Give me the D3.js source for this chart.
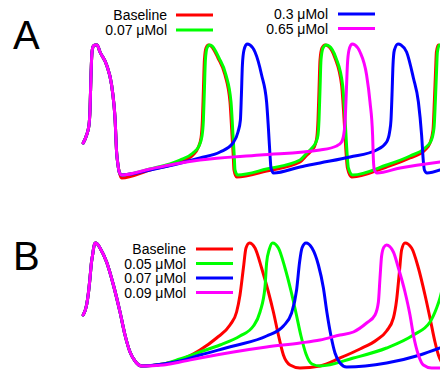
<!DOCTYPE html>
<html lang="en">
<head>
    <meta charset="UTF-8">
    <title>Action potentials</title>
    <script src="https://d3js.org/d3.v7.min.js"></script>
    <style>
        body { margin: 0; background: #fff; }
        svg { display: block; }
        text { font-family: "Liberation Sans", Arial, sans-serif; fill: #000; }
        .trace { fill: none; stroke-width: 3; stroke-linejoin: round; stroke-linecap: round; }
    </style>
</head>
<body>
    <svg width="440" height="371"></svg>
    <script>
        // time (ms), membrane potential (mV)

        // panel A : first beat is the same for every trace
        const beatA0 = [[16,-68],[33,-60],[45,-50],[50,-35],[55,0],[60,23],[67,29],[75,30],[85,30],[100,23],
            [133,10],[158,-10],[170,-30],[175,-43],[183,-77],[190,-90],[196,-97]];

        const baselineA = [...beatA0, [208,-103],[350,-95],[500,-87],[565,-80],[590,-73],[605,-63],[612,-45],
            [617,-15],[622,15],[630,27],[642,30],[655,29],[690,17],[725,0],[750,-27],[760,-60],[766,-80],
            [770,-95],[783,-102],[933,-96],[1100,-87],[1135,-80],[1160,-75],[1177,-69],[1185,-61],[1190,-45],
            [1195,-15],[1200,15],[1210,27],[1225,30],[1240,29],[1275,17],[1308,-10],[1320,-43],[1330,-77],
            [1337,-93],[1358,-102],[1533,-92],[1650,-83],[1725,-75],[1750,-68],[1765,-55],[1772,-25],
            [1778,5],[1782,23],[1792,30],[1810,28]];

        const dose007A = [...beatA0, [208,-100],[350,-94],[500,-85],[565,-78],[595,-71],[610,-61],[617,-45],
            [622,-15],[627,15],[635,27],[647,30],[660,29],[695,17],[730,0],[755,-27],[765,-60],[771,-80],
            [775,-95],[788,-100],[933,-94],[1100,-85],[1135,-78],[1160,-73],[1180,-67],[1190,-60],[1195,-45],
            [1200,-15],[1205,15],[1215,27],[1230,30],[1245,29],[1280,17],[1313,-10],[1325,-43],[1335,-77],
            [1342,-93],[1363,-100],[1533,-90],[1650,-81],[1725,-73],[1755,-66],[1770,-53],[1777,-25],
            [1783,5],[1787,23],[1797,30],[1815,28]];

        const dose03A = [...beatA0, [208,-100],[350,-95],[600,-83],[700,-77],[765,-68],[790,-57],[802,-45],
            [807,-20],[812,10],[820,25],[835,31],[850,30],[875,23],[908,0],[933,-27],[942,-53],[950,-80],
            [955,-93],[968,-98],[1100,-92],[1200,-88],[1350,-82],[1483,-75],[1533,-67],[1548,-57],[1555,-45],
            [1560,-20],[1565,10],[1572,25],[1590,31],[1605,30],[1633,23],[1667,-3],[1692,-27],[1708,-60],
            [1717,-87],[1722,-95],[1735,-98],[1800,-95]];

        const dose065A = [...beatA0, [208,-100],[350,-94],[475,-89],[600,-85],[900,-80],[1200,-75],[1283,-71],
            [1308,-67],[1322,-55],[1327,-40],[1332,-15],[1337,10],[1345,25],[1360,31],[1375,30],[1400,23],
            [1433,0],[1450,-27],[1463,-60],[1467,-85],[1472,-95],[1485,-98],[1600,-93],[1800,-87]];

        // panel B
        const beatB0 = [[16,-40],[33,-30],[42,-18],[50,-3],[57,12],[63,20],[70,29],[77,32],[87,31],[100,27],
            [133,13],[167,-10],[200,-37],[225,-60],[250,-77],[275,-86],[308,-91]];

        const baselineB = [...beatB0, [417,-89],[500,-85],[600,-75],[683,-63],[750,-50],[783,-37],[800,-20],
            [817,7],[830,27],[847,32],[875,27],[908,7],[942,-17],[967,-37],[992,-60],[1017,-80],[1050,-90],
            [1100,-93],[1200,-91],[1300,-83],[1400,-74],[1483,-65],[1533,-56],[1567,-43],[1583,-25],[1597,3],
            [1608,25],[1625,32],[1658,27],[1692,7],[1725,-20],[1750,-43],[1775,-67],[1792,-80],[1810,-88]];

        const dose005B = [...beatB0, [417,-89],[500,-84],[600,-77],[700,-70],[800,-61],[867,-51],[900,-37],
            [925,-12],[933,12],[947,26],[963,32],[992,27],[1025,7],[1055,-16],[1080,-38],[1105,-61],
            [1130,-79],[1160,-89],[1200,-91],[1367,-83],[1533,-73],[1667,-60],[1750,-47],[1783,-33],
            [1800,-23],[1815,-10]];

        const dose007B = [...beatB0, [417,-89],[500,-86],[600,-80],[767,-71],[933,-61],[1017,-51],[1058,-38],
            [1083,-15],[1098,13],[1110,27],[1130,32],[1160,27],[1192,10],[1217,-13],[1235,-38],[1255,-61],
            [1275,-78],[1300,-88],[1333,-92],[1533,-88],[1700,-80],[1800,-73]];

        const dose009B = [...beatB0, [417,-90],[500,-87],[600,-83],[767,-77],[933,-72],[1100,-68],[1200,-65],
            [1300,-60],[1367,-57],[1433,-48],[1475,-40],[1492,-27],[1500,-3],[1508,19],[1520,28],[1533,30],
            [1567,23],[1592,7],[1625,-17],[1650,-40],[1667,-60],[1692,-80],[1717,-90],[1758,-93],[1800,-93]];

        const labelsA1 = ["Baseline", "0.07 \u03bcMol"];
        const labelsA2 = ["0.3 \u03bcMol", "0.65 \u03bcMol"];
        const labelsB = ["Baseline", "0.05 \u03bcMol", "0.07 \u03bcMol", "0.09 \u03bcMol"];
        const colors = ["#ff0000", "#00ff00", "#0000ff", "#ff00ff"];

        const svg = d3.select("svg");

        // scales
        const x = d3.scaleLinear().domain([0, 1800]).range([80, 440]);
        const yA = d3.scaleLinear().domain([-110, 40]).range([185, 35]);
        const yB = d3.scaleLinear().domain([-100, 40]).range([375, 235]);

        function drawTraces(series, y) {
            const line = d3.line()
                .x(d => x(d[0]))
                .y(d => y(d[1]))
                .curve(d3.curveMonotoneX);
            svg.append("g").selectAll("path")
                .data(series)
                .join("path")
                .attr("class", "trace")
                .attr("stroke", (d, i) => colors[i])
                .attr("d", line);
        }

        drawTraces([baselineA, dose007A, dose03A, dose065A], yA);
        drawTraces([baselineB, dose005B, dose007B, dose009B], yB);

        // legends: text right aligned, short line on the right
        function legend(labels, colorOffset, textX, lineX0, lineX1, yTop, step) {
            const g = svg.append("g");
            labels.forEach((lab, i) => {
                const cy = yTop + i * step;
                g.append("text")
                    .attr("x", textX)
                    .attr("y", cy + 5)
                    .attr("text-anchor", "end")
                    .attr("font-size", 14)
                    .text(lab);
                g.append("line")
                    .attr("x1", lineX0).attr("x2", lineX1)
                    .attr("y1", cy).attr("y2", cy)
                    .attr("stroke", colors[colorOffset + i])
                    .attr("stroke-width", 3);
            });
        }

        legend(labelsA1, 0, 167, 176, 213, 15, 15);
        legend(labelsA2, 2, 328, 338, 375, 14, 14.5);
        legend(labelsB, 0, 186, 196, 233, 249, 14.5);

        // panel letters
        svg.append("text").attr("x", 13).attr("y", 49).attr("font-size", 40).text("A");
        svg.append("text").attr("x", 13).attr("y", 270).attr("font-size", 40).text("B");
    </script>
</body>
</html>
